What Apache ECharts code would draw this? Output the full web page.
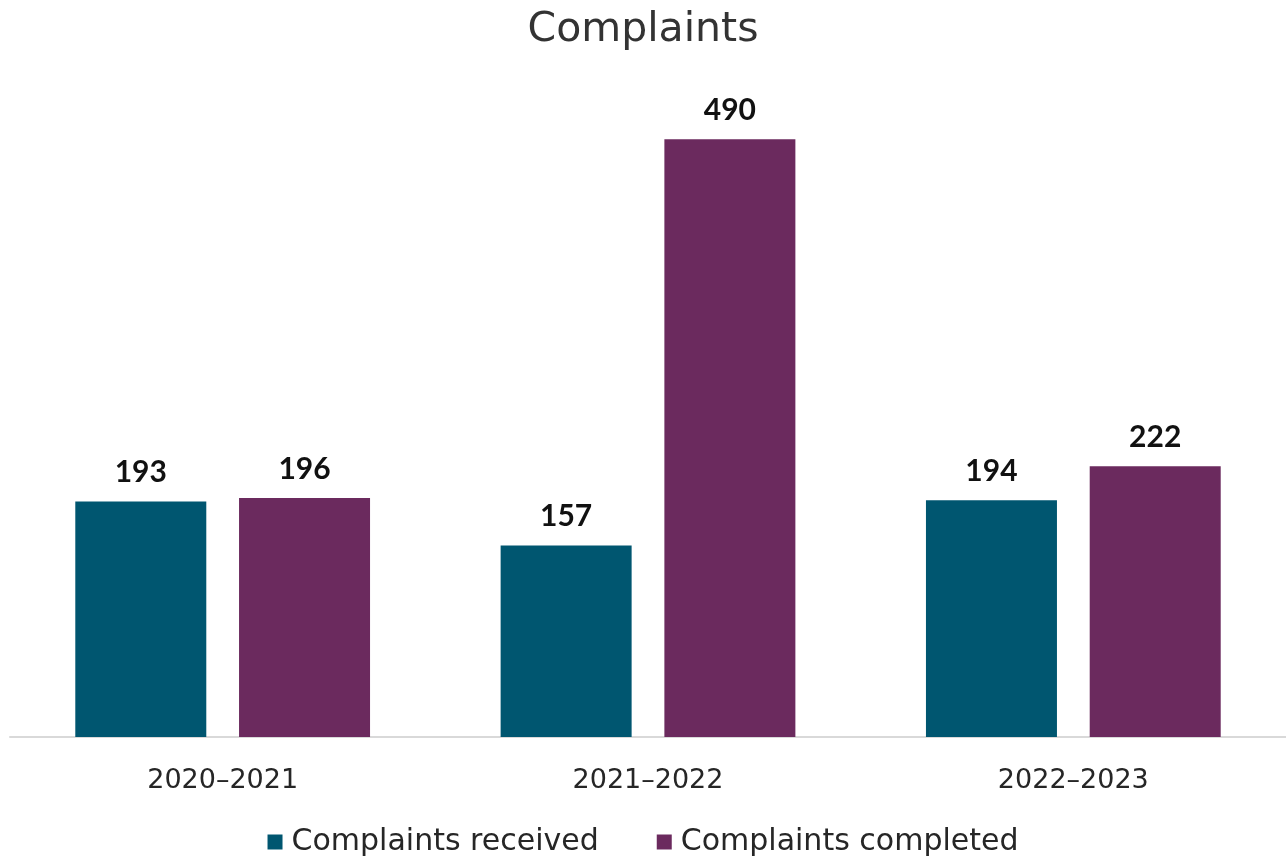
<!DOCTYPE html>
<html><head><meta charset="utf-8">
<script src="https://cdn.jsdelivr.net/npm/echarts@6/dist/echarts.min.js"></script>
<style>html,body{margin:0;padding:0;background:#fff}#c{width:1286px;height:859px}</style>
</head><body><div id="c"></div>
<script>
const categories = ['2020–2021', '2021–2022', '2022–2023'];
const received = [193, 157, 194];
const completed = [196, 490, 222];
const seriesNames = ['Complaints received', 'Complaints completed'];

const chart = echarts.init(document.getElementById('c'));
const FONT = 'DejaVu Sans';
const LFONT = 'Lato';
chart.setOption({
  animation: false,
  title: { text: 'Complaints', left: 'center', top: 5,
    textStyle: { fontFamily: FONT, fontWeight: 'normal', fontSize: 41, color: '#333333' } },
  legend: { bottom: -3, left: 'center', itemWidth: 15, itemHeight: 15, itemGap: 58,
    icon: 'rect',
    textStyle: { fontFamily: FONT, fontSize: 30, color: '#262626', padding: [0, 0, 0, 4] } },
  grid: { left: 10, right: -2, top: 127, bottom: 122 },
  xAxis: { type: 'category', data: categories,
    axisLine: { lineStyle: { color: '#d9d9d9', width: 2 } },
    axisTick: { show: false },
    axisLabel: { fontFamily: FONT, fontSize: 27, color: '#262626', margin: 30 } },
  yAxis: { type: 'value', min: 0, max: 500, show: false, splitLine: { show: false } },
  series: [
    { name: seriesNames[0], type: 'bar', data: received, barWidth: 131, barGap: '25%',
      itemStyle: { color: '#005670' },
      label: { show: true, position: 'top', distance: 14, fontFamily: LFONT, fontWeight: 'bold', fontSize: 30, color: '#111' } },
    { name: seriesNames[1], type: 'bar', data: completed, barWidth: 131, barGap: '25%',
      itemStyle: { color: '#6b2a5e' },
      label: { show: true, position: 'top', distance: 14, fontFamily: LFONT, fontWeight: 'bold', fontSize: 30, color: '#111' } }
  ]
});
</script></body></html>
